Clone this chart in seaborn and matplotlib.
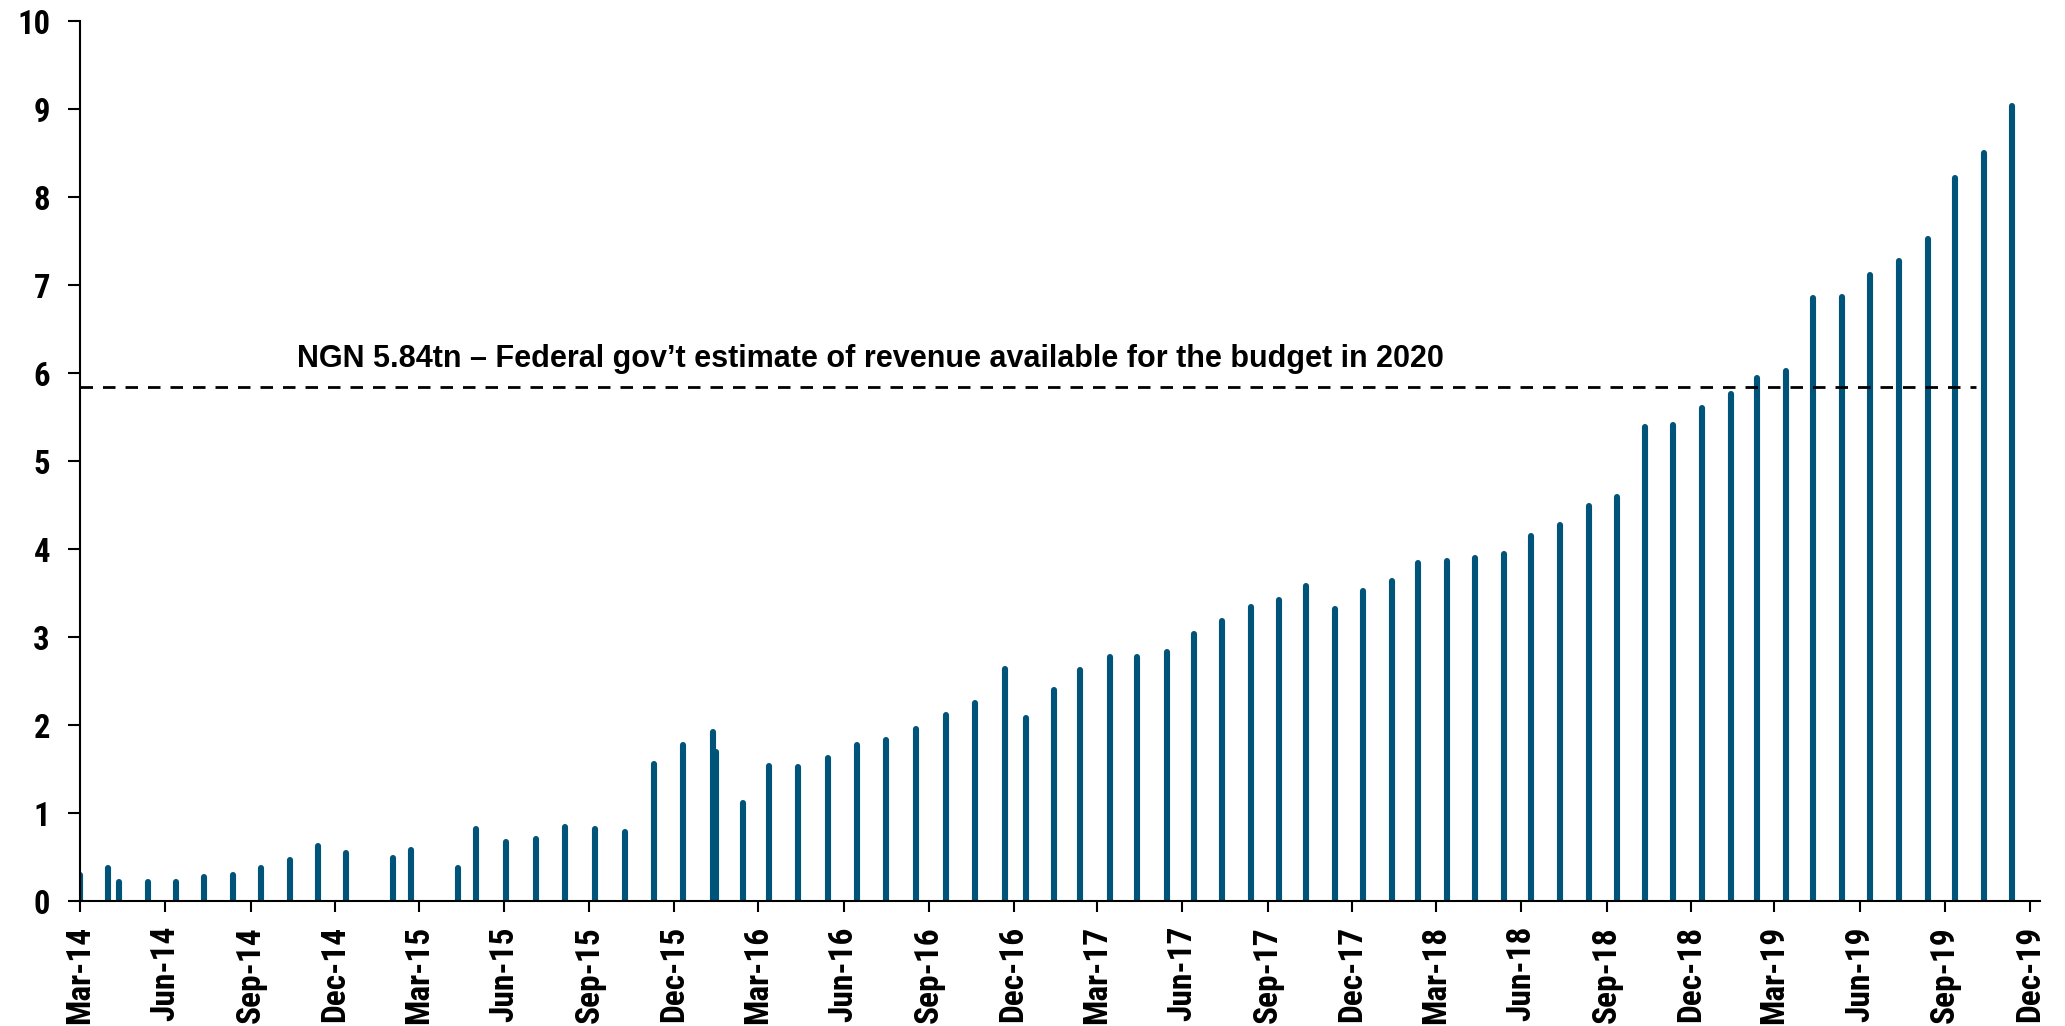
import matplotlib
matplotlib.use("Agg")
import matplotlib.pyplot as plt
import matplotlib.dates as mdates
from matplotlib import font_manager as fm
import numpy as np
import pandas as pd
import seaborn as sns

# Outstanding balance (NGN tn) on each observation date
dates = [
    "2014-03-01", "2014-03-31", "2014-04-12", "2014-05-13", "2014-06-12",
    "2014-07-13", "2014-08-13", "2014-09-12", "2014-10-13", "2014-11-12",
    "2014-12-13", "2015-02-01", "2015-02-21", "2015-04-12", "2015-05-02",
    "2015-06-03", "2015-07-05", "2015-08-06", "2015-09-07", "2015-10-09",
    "2015-11-10", "2015-12-11", "2016-01-12", "2016-01-15", "2016-02-13",
    "2016-03-13", "2016-04-13", "2016-05-15", "2016-06-15", "2016-07-17",
    "2016-08-18", "2016-09-19", "2016-10-21", "2016-11-22", "2016-12-14",
    "2017-01-14", "2017-02-11", "2017-03-15", "2017-04-13", "2017-05-15",
    "2017-06-13", "2017-07-14", "2017-08-14", "2017-09-13", "2017-10-12",
    "2017-11-12", "2017-12-13", "2018-01-13", "2018-02-10", "2018-03-13",
    "2018-04-12", "2018-05-13", "2018-06-12", "2018-07-13", "2018-08-13",
    "2018-09-12", "2018-10-13", "2018-11-12", "2018-12-13", "2019-01-13",
    "2019-02-10", "2019-03-13", "2019-04-12", "2019-05-13", "2019-06-12",
    "2019-07-13", "2019-08-13", "2019-09-12", "2019-10-13", "2019-11-12",
]
values = [
    0.30, 0.37, 0.22, 0.22, 0.22,
    0.27, 0.30, 0.37, 0.47, 0.62,
    0.55, 0.49, 0.58, 0.37, 0.82,
    0.67, 0.70, 0.84, 0.82, 0.78,
    1.56, 1.77, 1.92, 1.69, 1.12,
    1.54, 1.52, 1.63, 1.77, 1.83,
    1.95, 2.12, 2.25, 2.64, 2.08,
    2.40, 2.63, 2.77, 2.77, 2.83,
    3.04, 3.18, 3.34, 3.42, 3.58,
    3.32, 3.52, 3.64, 3.84, 3.86,
    3.90, 3.95, 4.15, 4.27, 4.49,
    4.59, 5.39, 5.41, 5.61, 5.76,
    5.94, 6.03, 6.86, 6.87, 7.12,
    7.27, 7.53, 8.22, 8.50, 9.04,
]

# Budget reference level
budget_value = 5.84
budget_label = "NGN 5.84tn \u2013 Federal gov\u2019t estimate of revenue available for the budget in 2020"
budget_line_start = "2014-03-01"
budget_line_end = "2019-10-04"

x_start = "2014-03-01"
x_end = "2019-12-12"
y_ticks = list(range(0, 11))

bar_color = "#005379"

sns.set_style("ticks")
plt.rcParams["font.family"] = ["Liberation Sans", "DejaVu Sans"]


def narrow_bold(size):
    """Pick a condensed bold face for the tick labels, if one is installed."""
    installed = {f.name for f in fm.fontManager.ttflist}
    for name in ("Liberation Sans Narrow", "Arial Narrow", "Roboto Condensed",
                 "Open Sans Condensed"):
        if name in installed:
            return fm.FontProperties(family=name, weight="bold", size=size)
    for f in fm.fontManager.ttflist:
        if f.name == "DejaVu Sans" and str(f.stretch) in ("condensed", "semi-condensed"):
            return fm.FontProperties(family="DejaVu Sans", stretch="condensed",
                                     weight="bold", size=size)
    return fm.FontProperties(family="Liberation Sans", weight="bold", size=size * 0.82)


xfont = narrow_bold(24)
yfont = narrow_bold(23.5)

# Each stem runs from zero up to its value
stems = pd.DataFrame({
    "date": np.repeat(pd.to_datetime(dates), 2),
    "value": np.ravel([[0.0, v] for v in values]),
    "obs": np.repeat(np.arange(len(dates)), 2),
})

fig = plt.figure(figsize=(20.65, 10.26), dpi=100)
ax = fig.add_axes([0.03874, 0.1218, 0.9491, 0.8574])

sns.lineplot(
    data=stems, x="date", y="value", units="obs", estimator=None,
    color=bar_color, linewidth=4.4, solid_capstyle="round", ax=ax,
    legend=False,
)

# Dashed budget line and its caption
ref = pd.DataFrame({
    "date": pd.to_datetime([budget_line_start, budget_line_end]),
    "value": [budget_value, budget_value],
})
sns.lineplot(data=ref, x="date", y="value", color="black", linewidth=2.0,
             ax=ax, legend=False)
ax.lines[-1].set_dashes((4.5, 3.6))
ax.text(0.1106, 0.607, budget_label, transform=ax.transAxes,
        ha="left", va="baseline", fontsize=22, fontweight="bold", color="black")

ax.set_xlim(pd.Timestamp(x_start), pd.Timestamp(x_end))
ax.set_ylim(0, 10)
ax.set_yticks(y_ticks)
ax.set_yticklabels([str(t) for t in y_ticks])

ax.xaxis.set_major_locator(mdates.MonthLocator(bymonth=[3, 6, 9, 12]))
ax.xaxis.set_major_formatter(mdates.DateFormatter("%b-%y"))

ax.tick_params(axis="x", length=8, width=1.5, pad=10, colors="black")
ax.tick_params(axis="y", length=8.6, width=1.5, pad=13, colors="black")

fig.canvas.draw()
for lab in ax.get_xticklabels():
    lab.set_fontproperties(xfont)
    lab.set_rotation(90)
    lab.set_ha("center")
    lab.set_va("top")
for lab in ax.get_yticklabels():
    lab.set_fontproperties(yfont)

ax.set_xlabel("")
ax.set_ylabel("")
sns.despine(ax=ax)
for side in ("left", "bottom"):
    ax.spines[side].set_linewidth(1.5)
    ax.spines[side].set_color("black")

fig.savefig("out.png", dpi=100)
